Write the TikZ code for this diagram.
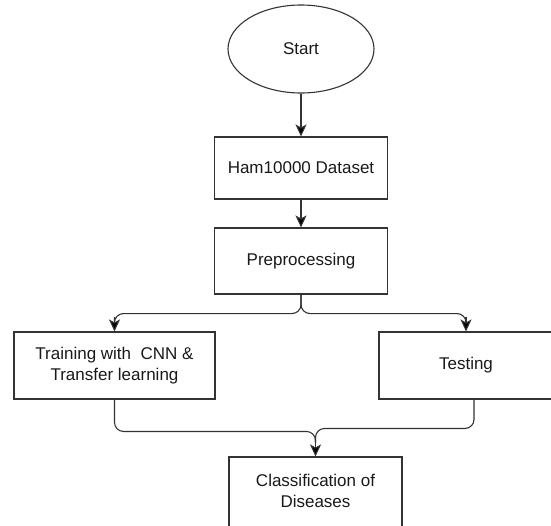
\documentclass[tikz,border=0pt]{standalone}
\usepackage{fontspec}
\setmainfont{Liberation Sans}
\usetikzlibrary{shapes.geometric,arrows.meta,calc}

\begin{document}
\begin{tikzpicture}[
  every node/.style={font=\fontsize{17}{20.5}\selectfont, text=black!90, align=center},
  stepbox/.style={draw=black!80, line width=1.1pt, rectangle, inner sep=0pt},
  startshape/.style={draw=black!80, line width=1.1pt, ellipse, inner sep=0pt,
    minimum width=146pt, minimum height=88pt},
  flow/.style={draw=black!80, line width=1.1pt, rounded corners=9pt},
  arrow/.style={draw=black!80, line width=1.1pt,
    -{Stealth[length=12pt,width=11pt,inset=3pt,fill=black]}}]

  % page frame, in points with y growing downwards
  \useasboundingbox (0pt,0pt) rectangle (551pt,-525pt);

  % process steps
  \node[startshape] (start) at (301pt,-49pt) {Start};
  \node[stepbox, minimum width=173pt, minimum height=62pt] (ham) at (301pt,-168pt) {Ham10000 Dataset};
  \node[stepbox, minimum width=173pt, minimum height=66pt] (pre) at (301pt,-261pt) {Preprocessing};
  \node[stepbox, minimum width=201pt, minimum height=67pt] (train) at (114.5pt,-365.5pt)
    {Training with \ CNN \&\\Transfer learning};
  \node[stepbox, minimum width=174pt, minimum height=67pt] (test) at (466pt,-365.5pt) {Testing};
  \node[stepbox, minimum width=173pt, minimum height=76pt] (cls) at (315.5pt,-495pt) {};
  \node (clstext) at (315.5pt,-491pt) {Classification of\\Diseases};

  % straight steps
  \draw[arrow] (start.south) -- (ham.north);
  \draw[arrow] (ham.south) -- (pre.north);

  % split after preprocessing (rounded run, then the arrow tip)
  \coordinate (inTrain) at ($(train.north)+(0pt,14pt)$);
  \coordinate (inTest) at ($(test.north)+(0pt,14pt)$);
  \draw[flow] (pre.south) -- ++(0pt,-19pt) -| (inTrain);
  \draw[arrow] (inTrain) -- (train.north);
  \draw[flow] (pre.south) -- ++(0pt,-19pt) -| (inTest);
  \draw[arrow] (inTest) -- (test.north);

  % merge into classification
  \coordinate (joinL) at ($(cls.north)+(0pt,25pt)$);
  \coordinate (joinR) at ($(cls.north)+(0pt,28pt)$);
  \coordinate (inCls) at ($(cls.north)+(0pt,14pt)$);
  \draw[flow] (train.south) |- (joinL) -- (inCls);
  \draw[flow] ([xshift=8pt]test.south) |- (joinR) -- (inCls);
  \draw[arrow] (inCls) -- (cls.north);
\end{tikzpicture}
\end{document}
